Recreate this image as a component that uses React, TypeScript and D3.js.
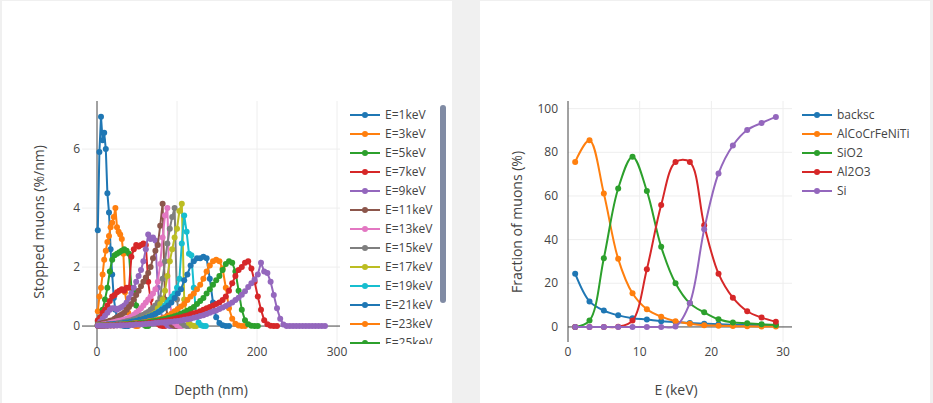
import React from 'react';
import * as d3 from 'd3';

// Left chart: implantation profiles, one per energy (keV)
const energies = [1, 3, 5, 7, 9, 11, 13, 15, 17, 19, 21, 23, 25, 27, 29];
// depth of first bin and bin width (nm) per profile
const firstDepth = 1;
const depthSteps = [2, 2, 3, 3, 3, 3, 3, 3, 3, 3, 4, 4, 4, 4, 4];

const profE1 = [3.25, 5.9, 7.1, 6.3, 6.55, 6.0, 4.5, 3.85, 2.6, 1.75, 0.95, 0.55, 0.3, 0.15, 0.08, 0.03, 0.01, 0, 0, 0];
const profE3 = [0.5, 1.0, 1.3, 1.75, 2.25, 2.55, 2.85, 3.05, 3.35, 3.5, 3.7, 4.0, 3.35, 3.2, 3.1, 2.95, 2.45, 1.15, 0.75, 0.45,
  0.25, 0.12, 0.05, 0.02, 0, 0];
const profE5 = [0.15, 0.3, 0.55, 0.9, 1.3, 1.85, 2.25, 2.4, 2.45, 2.5, 2.55, 2.6, 2.55, 2.45, 1.3, 1.2, 0.7, 0.35, 0.15, 0.05,
  0, 0];
const profE7 = [0.2, 0.3, 0.45, 0.55, 0.7, 0.85, 1.0, 1.05, 1.15, 1.2, 1.25, 1.2, 1.3, 1.3, 2.35, 2.6, 2.75, 2.7, 2.75, 2.8,
  2.75, 1.5, 0.9, 0.45, 0.2, 0.08, 0.02, 0, 0];
const profE9 = [0.05, 0.15, 0.25, 0.35, 0.45, 0.55, 0.6, 0.6, 0.55, 0.6, 0.65, 0.7, 0.8, 0.95, 1.1, 1.3, 1.5, 1.7, 1.9, 2.2,
  2.6, 3.1, 2.95, 3.0, 2.9, 1.3, 0.6, 0.25, 0.1, 0.03, 0, 0];
const profE11 = [0.05, 0.08, 0.1, 0.12, 0.15, 0.18, 0.2, 0.25, 0.3, 0.35, 0.4, 0.45, 0.55, 0.65, 0.75, 0.9, 1.05, 1.2, 1.35, 1.5,
  1.65, 1.8, 2.0, 2.3, 2.55, 2.75, 3.4, 4.15, 0.9, 0.35, 0.12, 0.04, 0, 0];
const profE13 = [0.03, 0.04, 0.05, 0.06, 0.08, 0.1, 0.12, 0.14, 0.16, 0.18, 0.2, 0.22, 0.25, 0.28, 0.32, 0.38, 0.45, 0.52, 0.6, 0.7,
  0.8, 0.9, 1.0, 1.1, 1.25, 1.5, 2.1, 3.0, 3.75, 4.0, 0.8, 0.3, 0.1, 0.03, 0, 0];
const profE15 = [0.02, 0.03, 0.03, 0.04, 0.05, 0.06, 0.07, 0.08, 0.09, 0.1, 0.12, 0.14, 0.16, 0.18, 0.2, 0.23, 0.26, 0.3, 0.34, 0.38,
  0.43, 0.48, 0.55, 0.62, 0.7, 0.8, 0.95, 1.6, 2.2, 2.8, 3.3, 3.7, 4.0, 0.9, 0.3, 0.1, 0.03, 0, 0];
const profE17 = [0.02, 0.02, 0.03, 0.03, 0.04, 0.04, 0.05, 0.06, 0.07, 0.08, 0.09, 0.1, 0.11, 0.12, 0.14, 0.16, 0.18, 0.2, 0.22, 0.25,
  0.28, 0.32, 0.36, 0.4, 0.45, 0.6, 0.75, 0.9, 1.2, 1.7, 2.2, 2.6, 3.0, 3.3, 3.9, 4.15, 0.9, 0.3, 0.1, 0.03, 0, 0];
const profE19 = [0.02, 0.02, 0.02, 0.03, 0.03, 0.04, 0.04, 0.05, 0.05, 0.06, 0.07, 0.08, 0.09, 0.1, 0.11, 0.12, 0.14, 0.16, 0.18, 0.2,
  0.23, 0.26, 0.3, 0.34, 0.4, 0.46, 0.52, 0.6, 0.7, 0.8, 0.9, 1.0, 1.1, 1.3, 1.6, 2.8, 3.75, 3.2, 2.45, 2.4,
  1.3, 0.4, 0.12, 0.03, 0, 0];
const profE21 = [0.02, 0.03, 0.04, 0.05, 0.06, 0.07, 0.08, 0.09, 0.1, 0.12, 0.14, 0.16, 0.18, 0.21, 0.24, 0.28, 0.32, 0.37, 0.42, 0.48,
  0.55, 0.62, 0.7, 0.8, 0.95, 1.1, 1.25, 1.55, 1.75, 2.05, 2.2, 2.3, 2.3, 2.35, 2.3, 1.6, 0.8, 0.3, 0.1, 0.03,
  0, 0];
const profE23 = [0.02, 0.02, 0.03, 0.03, 0.04, 0.04, 0.05, 0.05, 0.06, 0.07, 0.08, 0.09, 0.1, 0.11, 0.12, 0.14, 0.16, 0.18, 0.2, 0.23,
  0.26, 0.3, 0.35, 0.42, 0.5, 0.58, 0.66, 0.75, 0.88, 1.0, 1.1, 1.25, 1.4, 1.6, 1.85, 2.05, 2.2, 2.25, 2.2, 1.95,
  1.3, 0.6, 0.25, 0.08, 0.02, 0, 0];
const profE25 = [0.01, 0.01, 0.02, 0.02, 0.03, 0.03, 0.04, 0.04, 0.05, 0.06, 0.07, 0.08, 0.09, 0.1, 0.11, 0.12, 0.14, 0.16, 0.18, 0.2,
  0.22, 0.24, 0.27, 0.3, 0.33, 0.37, 0.42, 0.47, 0.52, 0.58, 0.65, 0.75, 0.85, 0.95, 1.1, 1.25, 1.4, 1.55, 1.7, 1.9,
  2.1, 2.2, 2.15, 1.85, 1.2, 0.55, 0.2, 0.06, 0.01, 0, 0];
const profE27 = [0.01, 0.01, 0.01, 0.02, 0.02, 0.02, 0.03, 0.03, 0.04, 0.04, 0.05, 0.05, 0.06, 0.07, 0.08, 0.09, 0.1, 0.11, 0.12, 0.14,
  0.16, 0.18, 0.2, 0.22, 0.25, 0.28, 0.3, 0.33, 0.36, 0.4, 0.43, 0.46, 0.5, 0.55, 0.6, 0.65, 0.7, 0.75, 0.8, 0.88,
  1.0, 1.2, 1.45, 1.7, 1.9, 2.0, 2.15, 2.2, 1.95, 1.5, 1.0, 0.55, 0.2, 0.06, 0.01, 0, 0];
const profE29 = [0.01, 0.01, 0.01, 0.01, 0.02, 0.02, 0.02, 0.03, 0.03, 0.03, 0.04, 0.04, 0.05, 0.05, 0.06, 0.07, 0.08, 0.09, 0.1, 0.11,
  0.12, 0.13, 0.14, 0.15, 0.16, 0.17, 0.19, 0.21, 0.23, 0.25, 0.28, 0.31, 0.34, 0.37, 0.41, 0.45, 0.49, 0.53, 0.58, 0.63,
  0.68, 0.74, 0.8, 0.88, 0.96, 1.06, 1.18, 1.32, 1.45, 1.58, 1.75, 2.15, 1.85, 1.8, 1.5, 1.05, 0.6, 0.25, 0.05, 0,
  0, 0, 0, 0, 0, 0, 0, 0, 0, 0, 0, 0];

const profiles = [profE1, profE3, profE5, profE7, profE9, profE11, profE13, profE15,
  profE17, profE19, profE21, profE23, profE25, profE27, profE29];

// Right chart: fraction of muons per layer vs energy
const layerNames = ['backsc', 'AlCoCrFeNiTi', 'SiO2', 'Al2O3', 'Si'];
const fracBacksc = [24.4, 11.7, 7.5, 5.3, 4.0, 3.4, 2.6, 2.3, 1.8, 1.5, 1.2, 1.0, 0.9, 0.8, 0.7];
const fracAlloy = [75.6, 85.5, 61.1, 31.2, 15.4, 8.1, 4.7, 2.6, 1.5, 0.8, 0.6, 0.4, 0.3, 0.2, 0.2];
const fracSiO2 = [0.0, 2.9, 31.5, 63.4, 78.0, 62.3, 36.7, 20.0, 10.8, 6.7, 3.5, 2.0, 1.7, 1.2, 0.9];
const fracAl2O3 = [0, 0, 0, 0.1, 2.9, 26.4, 55.9, 75.5, 75.5, 46.6, 24.4, 13.4, 7.2, 4.3, 2.4];
const fracSi = [0, 0, 0, 0, 0, 0, 0, 0.2, 11.0, 44.7, 70.3, 83.1, 90.2, 93.4, 96.2];
const fractions = [fracBacksc, fracAlloy, fracSiO2, fracAl2O3, fracSi];

const xTicksL = [0, 100, 200, 300];
const yTicksL = [0, 2, 4, 6];
const xTicksR = [0, 10, 20, 30];
const yTicksR = [0, 20, 40, 60, 80, 100];

const palette = d3.schemeCategory10;
const FONT = '"Open Sans", verdana, arial, sans-serif';
const TXT = '#444';

type Pt = [number, number];

export default function App() {
  // left panel geometry
  const L = { left: 82, right: 340, top: 101, bottom: 347 };
  const xL = d3.scaleLinear().domain([-18.75, 303.75]).range([L.left, L.right]);
  const yL = d3.scaleLinear().domain([-0.71, 7.63]).range([L.bottom, L.top]);
  const lineL = d3.line<Pt>().x(d => xL(d[0])).y(d => yL(d[1]));

  // right panel geometry
  const R = { left: 568, right: 792, top: 101, bottom: 342 };
  const xR = d3.scaleLinear().domain([0, 31.25]).range([R.left, R.right]);
  const yR = d3.scaleLinear().domain([-6.9, 103.5]).range([R.bottom, R.top]);
  const lineR = d3.line<Pt>().x(d => xR(d[0])).y(d => yR(d[1])).curve(d3.curveCatmullRom.alpha(0.5));

  const leftSeries = energies.map((e, i) => ({
    name: `E=${e}keV`,
    color: palette[i % 10],
    pts: profiles[i].map((v, j) => [firstDepth + j * depthSteps[i], v] as Pt),
  }));

  const rightSeries = layerNames.map((n, i) => ({
    name: n,
    color: palette[i % 10],
    pts: energies.map((e, j) => [e, fractions[i][j]] as Pt),
  }));

  return (
    <svg width={933} height={403} style={{ position: 'fixed', left: 0, top: 0, display: 'block' }}
      fontFamily={FONT}>
      <defs>
        <clipPath id="clipL"><rect x={L.left} y={L.top} width={L.right - L.left} height={L.bottom - L.top} /></clipPath>
        <clipPath id="clipR"><rect x={R.left} y={R.top} width={R.right - R.left} height={R.bottom - R.top} /></clipPath>
        <clipPath id="clipLeg"><rect x={344} y={104} width={110} height={240} /></clipPath>
      </defs>
      <rect x={0} y={0} width={933} height={403} fill="#f0f0f0" />
      <rect x={2} y={1} width={450} height={402} fill="#fff" />
      <rect x={480} y={1} width={450} height={402} fill="#fff" />

      {/* ---------- left panel ---------- */}
      <g>
        {xTicksL.filter(t => t !== 0).map(t => (
          <line key={t} x1={xL(t)} x2={xL(t)} y1={L.top} y2={L.bottom} stroke="#eee" />
        ))}
        {yTicksL.filter(t => t !== 0).map(t => (
          <line key={t} x1={L.left} x2={L.right} y1={yL(t)} y2={yL(t)} stroke="#eee" />
        ))}
        <line x1={xL(0)} x2={xL(0)} y1={L.top} y2={L.bottom} stroke={TXT} />
        <line x1={L.left} x2={L.right} y1={yL(0)} y2={yL(0)} stroke={TXT} />
        <g clipPath="url(#clipL)">
          {leftSeries.map(s => (
            <g key={s.name}>
              <path d={lineL(s.pts) || ''} fill="none" stroke={s.color} strokeWidth={2} />
              {s.pts.map((p, k) => (
                <circle key={k} cx={xL(p[0])} cy={yL(p[1])} r={3} fill={s.color} />
              ))}
            </g>
          ))}
        </g>
        {xTicksL.map(t => (
          <text key={t} x={xL(t)} y={356} textAnchor="middle" fontSize={12} fill={TXT}>{t}</text>
        ))}
        {yTicksL.map(t => (
          <text key={t} x={80} y={yL(t) + 4} textAnchor="end" fontSize={12} fill={TXT}>{t}</text>
        ))}
        <text x={211} y={395} textAnchor="middle" fontSize={14} fill={TXT}>Depth (nm)</text>
        <text transform="translate(44,222) rotate(-90)" textAnchor="middle" fontSize={14} fill={TXT}>
          Stopped muons (%/nm)
        </text>
        <g clipPath="url(#clipLeg)">
          {leftSeries.map((s, i) => {
            const y = 115 + i * 19;
            return (
              <g key={s.name}>
                <line x1={350} x2={380} y1={y} y2={y} stroke={s.color} strokeWidth={2} />
                <circle cx={365} cy={y} r={3} fill={s.color} />
                <text x={385} y={y + 4} fontSize={12} fill={TXT}>{s.name}</text>
              </g>
            );
          })}
        </g>
        <rect x={440} y={105} width={6} height={198} rx={3} fill="#808BA4" />
      </g>

      {/* ---------- right panel ---------- */}
      <g>
        {xTicksR.filter(t => t !== 0).map(t => (
          <line key={t} x1={xR(t)} x2={xR(t)} y1={R.top} y2={R.bottom} stroke="#eee" />
        ))}
        {yTicksR.filter(t => t !== 0).map(t => (
          <line key={t} x1={R.left} x2={R.right} y1={yR(t)} y2={yR(t)} stroke="#eee" />
        ))}
        <line x1={xR(0)} x2={xR(0)} y1={R.top} y2={R.bottom} stroke={TXT} />
        <line x1={R.left} x2={R.right} y1={yR(0)} y2={yR(0)} stroke={TXT} />
        <g clipPath="url(#clipR)">
          {rightSeries.map(s => (
            <g key={s.name}>
              <path d={lineR(s.pts) || ''} fill="none" stroke={s.color} strokeWidth={2} />
              {s.pts.map((p, k) => (
                <circle key={k} cx={xR(p[0])} cy={yR(p[1])} r={3} fill={s.color} />
              ))}
            </g>
          ))}
        </g>
        {xTicksR.map(t => (
          <text key={t} x={xR(t)} y={356} textAnchor="middle" fontSize={12} fill={TXT}>{t}</text>
        ))}
        {yTicksR.map(t => (
          <text key={t} x={558} y={yR(t) + 4} textAnchor="end" fontSize={12} fill={TXT}>{t}</text>
        ))}
        <text x={676} y={395} textAnchor="middle" fontSize={14} fill={TXT}>E (keV)</text>
        <text transform="translate(522,222) rotate(-90)" textAnchor="middle" fontSize={14} fill={TXT}>
          Fraction of muons (%)
        </text>
        {rightSeries.map((s, i) => {
          const y = 115 + i * 19;
          return (
            <g key={s.name}>
              <line x1={802} x2={832} y1={y} y2={y} stroke={s.color} strokeWidth={2} />
              <circle cx={817} cy={y} r={3} fill={s.color} />
              <text x={837} y={y + 4} fontSize={12} fill={TXT}>{s.name}</text>
            </g>
          );
        })}
      </g>
    </svg>
  );
}
